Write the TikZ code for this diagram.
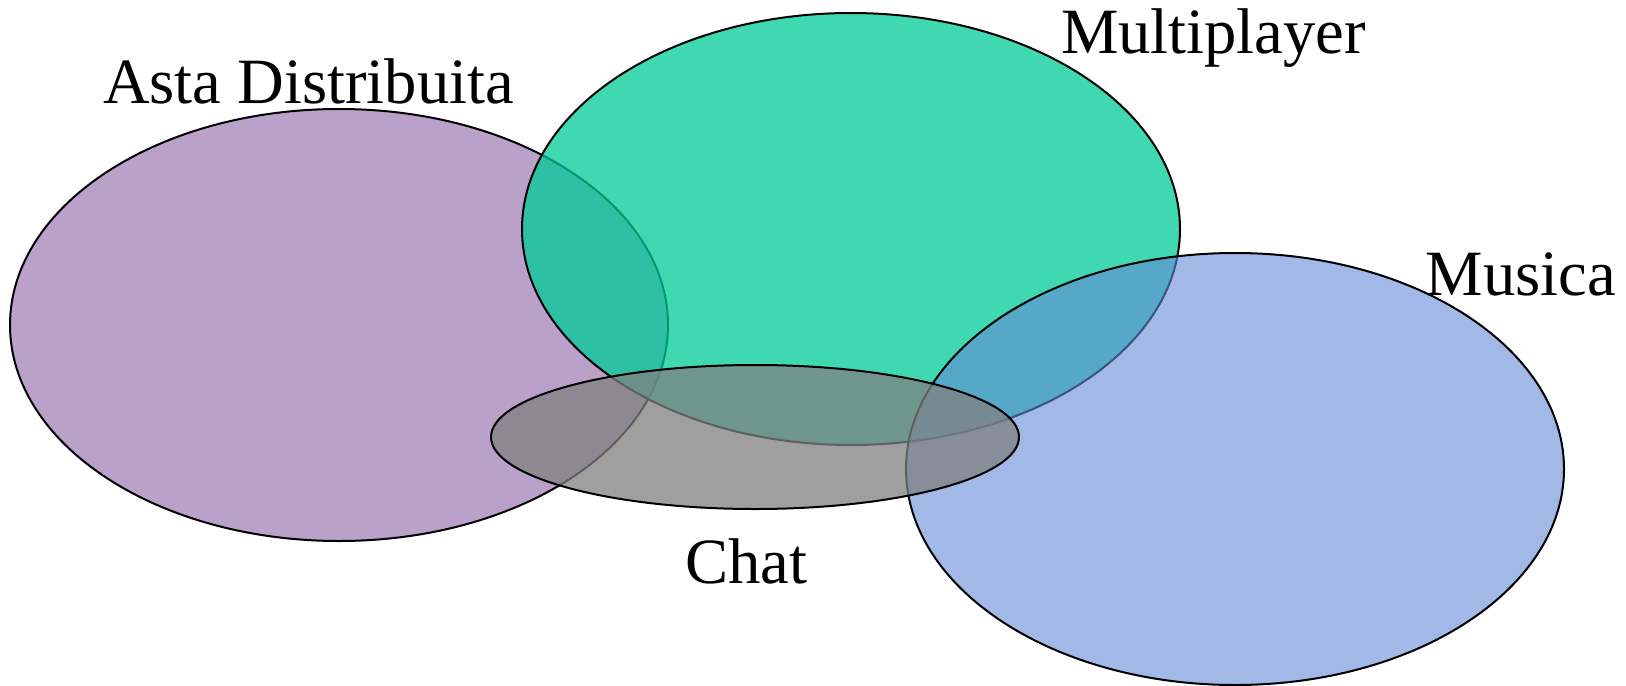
\documentclass[tikz,border=0pt]{standalone}
\usepackage{fontspec}
\setmainfont{Liberation Serif}
\begin{document}
\begin{tikzpicture}[x=0.5pt,y=-0.5pt,
  setbox/.style={draw=black,line width=1pt,fill opacity=0.75},
  lbl/.style={anchor=base,inner sep=0pt,font=\fontsize{32.3}{39}\selectfont}]
\definecolor{cpurple}{RGB}{163,130,185}
\definecolor{cgreen}{RGB}{0,203,152}
\definecolor{cblue}{RGB}{100,137,214}
\definecolor{cgray}{RGB}{128,128,128}
\useasboundingbox (0,0) rectangle (1626,685);
\fill[white] (0,0) rectangle (1626,685);
\draw[setbox,fill=cpurple] (339,325) ellipse [x radius=329, y radius=216];
\draw[setbox,fill=cgreen] (851,229) ellipse [x radius=329, y radius=216];
\draw[setbox,fill=cblue,fill opacity=0.6] (1235,469) ellipse [x radius=329, y radius=216];
\draw[setbox,fill=cgray] (755,437) ellipse [x radius=264, y radius=72];
\node[lbl] (asta) at (308.5,103) {Asta Distribuita};
\node[lbl] (multi) at (1213.5,54) {Multiplayer};
\node[lbl] (musica) at (1521,295) {Musica};
\node[lbl] (chat) at (746,583) {Chat};
\end{tikzpicture}
\end{document}
